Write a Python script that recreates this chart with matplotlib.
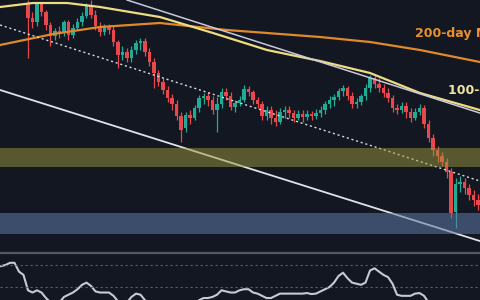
import numpy as np
import matplotlib
matplotlib.use("Agg")
import matplotlib.pyplot as plt

# daily candles (arbitrary price units)
opens = [257, 242, 238, 256, 248, 235, 224, 229, 227, 238, 225, 232, 238, 244, 254, 245, 234, 228, 233, 230,
         218, 205, 208, 202, 210, 217, 219, 208, 198, 187, 178, 170, 162, 156, 144, 132, 145, 142, 152, 162,
         164, 160, 150, 156, 168, 164, 153, 157, 160, 171, 168, 160, 156, 144, 150, 142, 138, 148, 150, 147,
         142, 146, 143, 146, 144, 147, 150, 156, 160, 163, 169, 172, 164, 156, 158, 164, 172, 182, 176, 172,
         167, 162, 152, 150, 154, 148, 142, 148, 152, 136, 122, 110, 104, 98, 88, 48, 76, 78, 72, 65, 60]
closes = [242, 238, 256, 248, 235, 224, 229, 227, 238, 225, 232, 238, 244, 254, 245, 234, 228, 233, 230, 218,
          205, 208, 202, 210, 217, 219, 208, 198, 187, 178, 170, 162, 156, 144, 130, 145, 142, 152, 162, 164,
          160, 150, 156, 168, 164, 153, 157, 160, 171, 168, 160, 156, 144, 150, 142, 138, 148, 150, 147, 142,
          146, 143, 146, 144, 147, 150, 156, 160, 163, 169, 172, 164, 156, 158, 164, 172, 182, 176, 172, 167,
          162, 152, 150, 154, 148, 142, 148, 152, 136, 122, 110, 104, 98, 88, 47, 76, 78, 72, 65, 60, 55]
highs = [260, 248, 258, 258, 250, 238, 232, 234, 240, 240, 236, 242, 248, 257, 260, 250, 238, 236, 236, 235,
         220, 214, 212, 214, 220, 222, 222, 212, 202, 190, 182, 174, 166, 160, 148, 148, 150, 155, 165, 167,
         168, 164, 163, 172, 172, 168, 160, 164, 175, 174, 170, 163, 159, 154, 154, 150, 152, 154, 154, 150,
         150, 150, 150, 149, 151, 154, 159, 164, 166, 172, 175, 174, 168, 162, 166, 176, 185, 185, 182, 176,
         172, 165, 156, 158, 158, 152, 152, 156, 155, 140, 126, 114, 108, 102, 92, 82, 84, 82, 76, 70, 66]
lows = [202, 232, 234, 244, 230, 214, 220, 222, 224, 220, 222, 230, 234, 242, 242, 230, 224, 225, 226, 214,
        192, 200, 198, 198, 206, 210, 204, 194, 172, 174, 166, 158, 150, 140, 118, 128, 136, 140, 148, 156,
        154, 146, 128, 152, 160, 150, 148, 154, 158, 164, 156, 152, 140, 140, 136, 134, 136, 142, 142, 138,
        140, 138, 140, 140, 141, 143, 146, 152, 154, 160, 164, 160, 152, 152, 155, 160, 168, 172, 168, 163,
        158, 148, 146, 147, 142, 138, 140, 145, 132, 118, 104, 98, 94, 82, 42, 32, 68, 66, 60, 54, 50]

# RSI, starting 6 bars before the first visible candle
rsi_start = -6
rsi = [69, 70, 72, 72, 64, 61, 47, 45, 47, 45, 40, 36, 35, 36, 41, 43, 45, 48, 52, 54,
       51, 46, 45, 45, 45, 42, 37, 35, 36, 41, 44, 43, 38, 35, 33, 31, 29, 28, 27, 26,
       25, 30, 31, 33, 38, 40, 40, 41, 43, 47, 46, 45, 45, 47, 48, 48, 45, 44, 42, 40,
       40, 42, 44, 44, 44, 44, 44, 44, 44.5, 43.6, 44, 46, 48, 50, 54, 60, 63, 58, 54, 53,
       52, 54, 65, 67, 64, 61, 59, 53, 43, 42, 42, 42, 44, 44.5, 42, 36, 33]

# moving averages, read at a few bar positions
ma200_x = [-6.2, 5.6, 16.0, 29.3, 44.2, 64.9, 76.0, 87.1, 100.4]
ma200_y = [215, 226, 233, 237, 230, 223, 218, 210, 198]
ma100_x = [-6.2, 1.1, 8.7, 16.0, 29.3, 41.1, 53.1, 64.9, 76.0, 87.1, 100.4]
ma100_y = [253, 257, 257, 253, 243, 227, 210, 199, 187, 167, 150]

# trend lines (start/end)
upper_x, upper_y = [22.0, 100.4], [260, 147]
mid_x, mid_y = [-6.2, 100.4], [235, 79]
lower_x, lower_y = [-6.2, 100.4], [170, 19]

# zones
zone_hi = (93, 112)
zone_lo = (26, 47)

bg = "#131722"
up_col = "#22ab94"
dn_col = "#e8474b"

fig = plt.figure(figsize=(4.8, 3), dpi=100, facecolor=bg)
ax = fig.add_axes([0, 47 / 300, 1, 253 / 300])
ax2 = fig.add_axes([0, 0, 1, 45 / 300])
for a in (ax, ax2):
    a.set_facecolor(bg)
    a.set_xticks([])
    a.set_yticks([])
    for s in a.spines.values():
        s.set_visible(False)

x = np.arange(len(closes))
o = np.array(opens)
c = np.array(closes)
rising = c >= o
cols = np.where(rising, up_col, dn_col)
ax.vlines(x, lows, highs, colors=cols, linewidth=0.9, zorder=2)
ax.bar(x, np.abs(c - o) + 0.6, bottom=np.minimum(o, c) - 0.3, width=0.75, color=cols, zorder=3)

ax.plot(ma200_x, ma200_y, color="#e0892a", lw=1.6, zorder=4)
ax.plot(ma100_x, ma100_y, color="#ecdc82", lw=1.6, zorder=4)
ax.plot(upper_x, upper_y, color="#c9c8dc", lw=1.1, zorder=4)
ax.plot(mid_x, mid_y, color="#d8d8e0", lw=1.0, ls=(0, (1.5, 2)), zorder=4)
ax.plot(lower_x, lower_y, color="#e0e0e8", lw=1.3, zorder=4)

ax.axhspan(*zone_hi, color="#9c9a3c", alpha=0.5, lw=0, zorder=5)
ax.axhspan(*zone_lo, color="#5f78a8", alpha=0.55, lw=0, zorder=5)

# labels run off the right edge, as in the original crop
ax.text(86, 227, "200-day MA", color="#e8912b", fontsize=9, fontweight="bold", va="center", zorder=6)
ax.text(93.3, 170, "100-day MA", color="#f0e6a0", fontsize=9, fontweight="bold", va="center", zorder=6)

ax.set_xlim(-6.22, 100.44)
ax.set_ylim(7, 260)

# RSI pane
rx = np.arange(rsi_start, rsi_start + len(rsi))
ax2.plot(rx, rsi, color="#c8cad2", lw=1.5)
for lvl in (70, 50):
    ax2.axhline(lvl, color="#5a5e6a", lw=0.8, ls=(0, (2, 2.5)))
ax2.set_xlim(-6.22, 100.44)
ax2.set_ylim(38.2, 79.1)

# pane separator
fig.add_artist(plt.Line2D([0, 1], [47.5 / 300, 47.5 / 300], color="#55585f", lw=1.6))

fig.savefig("out.png", dpi=100, facecolor=bg)
